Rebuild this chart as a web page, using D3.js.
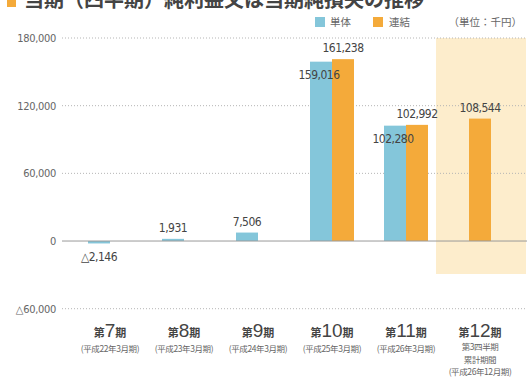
<!DOCTYPE html>
<html>
<head>
<meta charset="utf-8">
<script src="https://cdn.jsdelivr.net/npm/d3@7"></script>
<style>
  body { margin: 0; background: #fff; }
  svg { display: block; font-family: "Noto Sans CJK JP", sans-serif; }
  .num { font-family: "Liberation Sans Narrow", "DejaVu Sans Condensed", sans-serif; }
</style>
</head>
<body>
<div id="chart"></div>
<script>
var periods = ["7", "8", "9", "10", "11", "12"];
var sub_labels = [
    ["(平成22年3月期)"],
    ["(平成23年3月期)"],
    ["(平成24年3月期)"],
    ["(平成25年3月期)"],
    ["(平成26年3月期)"],
    ["第3四半期", "累計期間", "(平成26年12月期)"]
];
var single_values = [-2146, 1931, 7506, 159016, 102280, null];
var consol_values = [null, null, null, 161238, 102992, 108544];
var y_ticks = [180000, 120000, 60000, 0, -60000];

var width = 531;
var height = 383;
var blue = "#84c6da";
var orange = "#f4aa3a";

var svg = d3.select("#chart").append("svg")
    .attr("width", width)
    .attr("height", height);

var x = d3.scaleBand().domain(periods).range([73, 517]).padding(0);
var y = d3.scaleLinear().domain([-60000, 180000]).range([308.7, 38]);
var bar_w = 22;

function fmt(v) {
    return v < 0 ? "\u25b3" + d3.format(",")(-v) : d3.format(",")(v);
}

// title (cut off at top, as in the source image)
svg.append("rect").attr("x", 7).attr("y", -4).attr("width", 9).attr("height", 11).attr("fill", orange);
svg.append("text")
    .attr("x", 24).attr("y", 7)
    .attr("font-size", 20).attr("font-weight", "bold").attr("fill", "#444")
    .text("当期（四半期）純利益又は当期純損失の推移");

// highlight for last period
svg.append("rect")
    .attr("x", x("12") - 7).attr("y", y(180000))
    .attr("width", 90).attr("height", 236)
    .attr("fill", "#fdedcc");

// grid
var grid = svg.append("g");
grid.selectAll("line").data(y_ticks.filter(function(d) { return d != 0; })).enter()
    .append("line")
    .attr("x1", 62).attr("x2", 527)
    .attr("y1", function(d) { return y(d); })
    .attr("y2", function(d) { return y(d); })
    .attr("stroke", "#b5b5b5")
    .attr("stroke-dasharray", "1,2");

svg.append("g").selectAll("text").data(y_ticks).enter()
    .append("text")
    .attr("class", "num")
    .attr("x", 56)
    .attr("y", function(d) { return y(d) + 4; })
    .attr("text-anchor", "end")
    .attr("font-size", 11).attr("fill", "#666")
    .attr("letter-spacing", -0.3)
    .text(fmt);

// bars
var single = periods.map(function(p, i) { return { p: p, v: single_values[i], i: i }; })
    .filter(function(d) { return d.v != null; });
var consol = periods.map(function(p, i) { return { p: p, v: consol_values[i], i: i }; })
    .filter(function(d) { return d.v != null; });

function bar_x(d, kind) {
    var c = x(d.p) + x.bandwidth() / 2;
    var paired = single_values[d.i] != null && consol_values[d.i] != null;
    if (!paired) return c - bar_w / 2 - (kind == "s" ? 11 : 0);
    return kind == "s" ? c - bar_w : c;
}

svg.append("g").selectAll("rect").data(single).enter()
    .append("rect")
    .attr("x", function(d) { return bar_x(d, "s"); })
    .attr("y", function(d) { return y(Math.max(0, d.v)); })
    .attr("width", bar_w)
    .attr("height", function(d) { return Math.max(2, Math.abs(y(d.v) - y(0))); })
    .attr("fill", blue);

svg.append("g").selectAll("rect").data(consol).enter()
    .append("rect")
    .attr("x", function(d) { return bar_x(d, "c"); })
    .attr("y", function(d) { return y(Math.max(0, d.v)); })
    .attr("width", bar_w)
    .attr("height", function(d) { return Math.abs(y(d.v) - y(0)); })
    .attr("fill", orange);

// zero line
svg.append("line")
    .attr("x1", 62).attr("x2", 527)
    .attr("y1", y(0)).attr("y2", y(0))
    .attr("stroke", "#999").attr("stroke-width", 1);

// value labels
svg.append("g").selectAll("text").data(single).enter()
    .append("text")
    .attr("class", "num")
    .attr("x", function(d) { return bar_x(d, "s") + bar_w / 2 - (d.v > 50000 ? 2 : 0); })
    .attr("y", function(d) {
        if (d.v < 0) return y(d.v) + 18;
        if (d.v > 50000) return y(d.v) + 17;
        return y(d.v) - 7;
    })
    .attr("text-anchor", "middle")
    .attr("font-size", 12).attr("fill", "#444")
    .attr("letter-spacing", -0.5)
    .text(function(d) { return fmt(d.v); });

svg.append("g").selectAll("text").data(consol).enter()
    .append("text")
    .attr("class", "num")
    .attr("x", function(d) { return bar_x(d, "c") + bar_w / 2; })
    .attr("y", function(d) { return y(d.v) - 7; })
    .attr("text-anchor", "middle")
    .attr("font-size", 12).attr("fill", "#444")
    .attr("letter-spacing", -0.5)
    .text(function(d) { return fmt(d.v); });

// category labels
var cat = svg.append("g").selectAll("g").data(periods).enter()
    .append("g")
    .attr("transform", function(d) { return "translate(" + (x(d) + x.bandwidth() / 2) + ",0)"; });

var t = cat.append("text")
    .attr("y", 337)
    .attr("text-anchor", "middle")
    .attr("fill", "#444");
t.append("tspan").attr("font-size", 11).attr("font-weight", "bold").text("第");
t.append("tspan").attr("font-size", 19).attr("font-weight", "normal")
    .attr("font-family", "Liberation Sans, sans-serif").text(function(d) { return d; });
t.append("tspan").attr("font-size", 11).attr("font-weight", "bold").text("期");

cat.each(function(d, i) {
    var lines = sub_labels[i];
    var g = d3.select(this);
    lines.forEach(function(s, j) {
        var yy = lines.length == 1 ? 352 : 350 + j * 12.5;
        g.append("text")
            .attr("y", yy)
            .attr("text-anchor", "middle")
            .attr("font-size", 8.5)
            .attr("fill", "#666")
            .attr("letter-spacing", -0.4)
            .text(s);
    });
});

// legend
var legend = svg.append("g").attr("font-size", 10.5).attr("fill", "#666");
legend.append("rect").attr("x", 315).attr("y", 17).attr("width", 10).attr("height", 10).attr("fill", blue);
legend.append("text").attr("x", 330).attr("y", 26).text("単体");
legend.append("rect").attr("x", 373).attr("y", 17).attr("width", 10).attr("height", 10).attr("fill", orange);
legend.append("text").attr("x", 389).attr("y", 26).text("連結");
legend.append("text").attr("x", 522).attr("y", 26).attr("text-anchor", "end").text("（単位：千円）");
</script>
</body>
</html>
